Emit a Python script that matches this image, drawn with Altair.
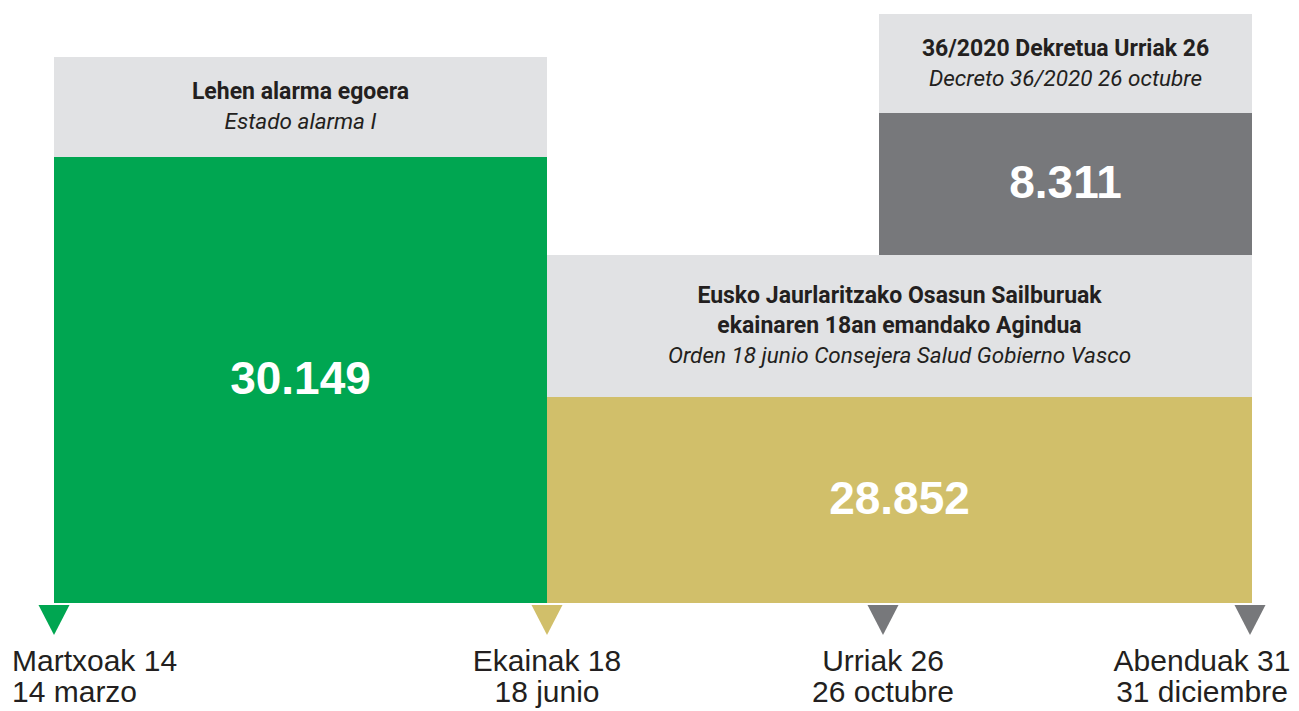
import altair as alt
import pandas as pd

W, H = 1283, 703

# ---- data: the three periods (blocks) ----
block_names = ["Lehen alarma egoera", "Osasun Sailburuaren Agindua", "36/2020 Dekretua"]
block_start = [0, 493, 825]        # timeline units
block_end = [493, 1198, 1198]
block_base = [0, 0, 348]           # schematic height units
block_top = [446, 206, 490]
header_top = [546, 348, 589]
block_values = [30149, 28852, 8311]
block_colors = ["#00A651", "#D1BF6A", "#77787B"]
header_lines = [
    ["Lehen alarma egoera", "Estado alarma I"],
    ["Eusko Jaurlaritzako Osasun Sailburuak", "ekainaren 18an emandako Agindua",
     "Orden 18 junio Consejera Salud Gobierno Vasco"],
    ["36/2020 Dekretua Urriak 26", "Decreto 36/2020 26 octubre"],
]

# ---- data: milestones on the timeline ----
milestone_eu = ["Martxoak 14", "Ekainak 18", "Urriak 26", "Abenduak 31"]
milestone_es = ["14 marzo", "18 junio", "26 octubre", "31 diciembre"]
milestone_pos = [0, 493, 829, 1196]
milestone_colors = ["#00A651", "#D1BF6A", "#77787B", "#77787B"]
label_anchor = [-42, 493, 829, 1148]

LINE = 30

blocks = pd.DataFrame({
    "name": block_names, "start": block_start, "end": block_end,
    "base": block_base, "top": block_top, "htop": header_top,
    "value": block_values, "color": block_colors,
})
blocks["label"] = [f"{v:,}".replace(",", ".") for v in block_values]

rows = []
for i, lines in enumerate(header_lines):
    cx = (block_start[i] + block_end[i]) / 2
    cy = (block_top[i] + header_top[i]) / 2
    n = len(lines)
    for j, t in enumerate(lines):
        rows.append({"text": t, "x": cx, "y": cy + (n - 1) / 2 * LINE - j * LINE,
                     "italic": j == n - 1})
lines_df = pd.DataFrame(rows)

ms = pd.DataFrame({
    "eu": milestone_eu, "es": milestone_es, "pos": milestone_pos,
    "color": milestone_colors, "anchor": label_anchor,
    "idx": list(range(len(milestone_eu))),
})

xs = alt.Scale(domain=[-46, 1237], nice=False, zero=False)
ys = alt.Scale(domain=[-108, 595], nice=False, zero=False)

NARROW = "Roboto"
SANS = "Liberation Sans"
TXT = "#231F20"

headers = alt.Chart(blocks).mark_rect(color="#E1E2E4").encode(
    x=alt.X("start:Q", scale=xs, axis=None), x2="end:Q",
    y=alt.Y("top:Q", scale=ys, axis=None), y2="htop:Q",
)
bodies = alt.Chart(blocks).mark_rect().encode(
    x=alt.X("start:Q", scale=xs, axis=None), x2="end:Q",
    y=alt.Y("base:Q", scale=ys, axis=None), y2="top:Q",
    color=alt.Color("color:N", scale=None),
)
values = alt.Chart(blocks).transform_calculate(
    cx="(datum.start + datum.end) / 2", cy="(datum.base + datum.top) / 2"
).mark_text(font=SANS, fontWeight="bold", fontSize=46, color="white",
            align="center", baseline="middle").encode(
    x=alt.X("cx:Q", scale=xs, axis=None),
    y=alt.Y("cy:Q", scale=ys, axis=None),
    text="label:N",
)
bold_lines = alt.Chart(lines_df).transform_filter("!datum.italic").mark_text(
    font=NARROW, fontWeight="bold", fontSize=23, color=TXT,
    align="center", baseline="middle").encode(
    x=alt.X("x:Q", scale=xs, axis=None), y=alt.Y("y:Q", scale=ys, axis=None),
    text="text:N",
)
ital_lines = alt.Chart(lines_df).transform_filter("datum.italic").mark_text(
    font=NARROW, fontStyle="italic", fontSize=22.5, color=TXT,
    align="center", baseline="middle").encode(
    x=alt.X("x:Q", scale=xs, axis=None), y=alt.Y("y:Q", scale=ys, axis=None),
    text="text:N",
)
triangles = alt.Chart(ms).mark_point(
    shape="M-1,-0.97L1,-0.97L0,0.97Z", filled=True, size=961, opacity=1,
    strokeWidth=0).encode(
    x=alt.X("pos:Q", scale=xs, axis=None),
    y=alt.Y(datum=-17, scale=ys, axis=None),
    color=alt.Color("color:N", scale=None),
)

def label_layer(field, ydatum, left):
    flt = "datum.idx == 0" if left else "datum.idx > 0"
    return alt.Chart(ms).transform_filter(flt).mark_text(
        font=SANS, fontSize=30, color=TXT,
        align="left" if left else "center", baseline="middle").encode(
        x=alt.X("anchor:Q", scale=xs, axis=None),
        y=alt.Y(datum=ydatum, scale=ys, axis=None),
        text=f"{field}:N",
    )

labels = [label_layer("eu", -59, True), label_layer("es", -90, True),
          label_layer("eu", -59, False), label_layer("es", -90, False)]

chart = alt.layer(headers, bodies, values, bold_lines, ital_lines, triangles, *labels).properties(
    width=W, height=H, autosize=alt.AutoSizeParams(type="none"), padding=0,
    background="white",
).configure_view(stroke=None)

chart.save("out.html", embed_options={"renderer": "svg", "actions": False})
